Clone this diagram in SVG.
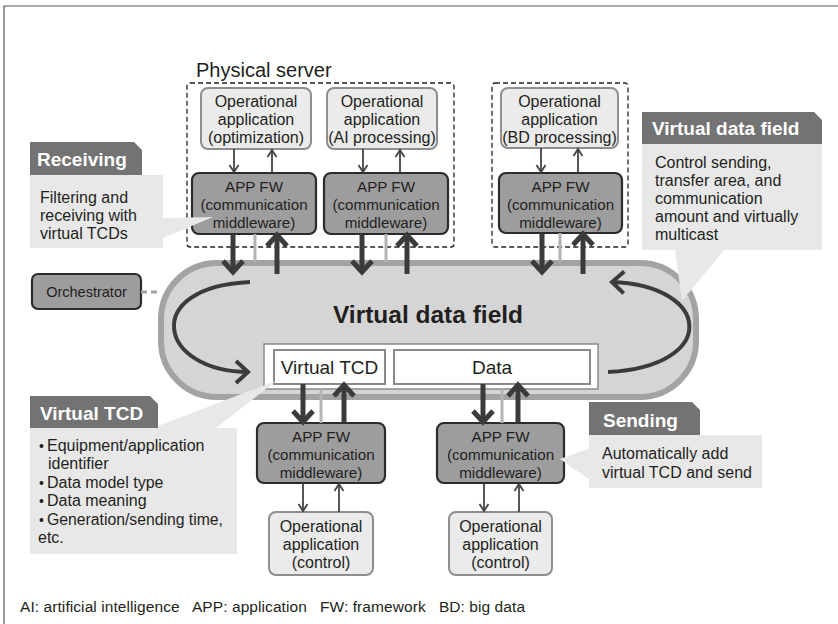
<svg xmlns="http://www.w3.org/2000/svg" width="838" height="624" viewBox="0 0 838 624">
<defs>
<style>
text{font-family:"Liberation Sans",Arial,sans-serif;fill:#231f20}
.op{fill:#ebebeb;stroke:#8e8e8e;stroke-width:2}
.fw{fill:#9d9d9d;stroke:#2b2b2b;stroke-width:2.2}
.t15{font-size:16px;text-anchor:middle}
.t14{font-size:15.2px;text-anchor:middle}
.thin{stroke:#444;stroke-width:1.8;fill:none;marker-end:url(#mthin)}
.thick{stroke:#3d3a3a;stroke-width:5;fill:none;marker-end:url(#mthick)}
.gl{stroke:#b3b3b3;stroke-width:3;fill:none}
.curve{stroke:#3d3a3a;stroke-width:4;fill:none;marker-end:url(#mcurve)}
.dash{fill:none;stroke:#231f20;stroke-width:1.3;stroke-dasharray:5,3}
.hd{fill:#737373}
.bd{fill:#e8e8e8}
.hdt{font-size:19px;font-weight:bold;fill:#fff}
.bt{font-size:16px}
</style>
<marker id="mthin" markerUnits="userSpaceOnUse" markerWidth="12" markerHeight="12" refX="9" refY="6" orient="auto">
<path d="M2,1.5 L9,6 L2,10.5" fill="none" stroke="#444" stroke-width="1.8"/>
</marker>
<marker id="mthick" markerUnits="userSpaceOnUse" markerWidth="22" markerHeight="24" refX="15" refY="12" orient="auto">
<path d="M3,2 L14,12 L3,22" fill="none" stroke="#3d3a3a" stroke-width="5" stroke-linejoin="miter"/>
</marker>
<marker id="mcurve" markerUnits="userSpaceOnUse" markerWidth="24" markerHeight="26" refX="17" refY="13" orient="auto">
<path d="M4,2 L16,13 L4,24" fill="none" stroke="#3d3a3a" stroke-width="4"/>
</marker>
</defs>
<rect width="838" height="624" fill="#fff"/>
<path d="M4,624 L4,6 L838,6" fill="none" stroke="#555" stroke-width="1.2"/>

<g id="server1">
<text x="196" y="77" style="font-size:20px">Physical server</text>
<rect class="dash" x="187" y="83" width="267" height="164" rx="3"/>
</g>
<g id="server2">
<rect class="dash" x="492" y="83" width="136" height="164" rx="3"/>
</g>

<g id="field">
<rect x="161" y="263" width="535" height="134" rx="56" fill="#d5d5d5" stroke="#a3a3a3" stroke-width="6"/>
<text x="428" y="323" style="font-size:24.5px;font-weight:bold;text-anchor:middle">Virtual data field</text>
<rect x="264" y="344" width="334" height="45" fill="#fff" stroke="#8a8a8a" stroke-width="1.5"/>
</g>
<g id="vtcd">
<rect x="274" y="350" width="111" height="34" fill="#fff" stroke="#8a8a8a" stroke-width="2"/>
<text x="329.5" y="374" style="font-size:19px;text-anchor:middle">Virtual TCD</text>
</g>
<g id="data">
<rect x="394" y="350" width="196" height="34" fill="#fff" stroke="#8a8a8a" stroke-width="2"/>
<text x="492" y="374" style="font-size:19px;text-anchor:middle">Data</text>
</g>

<g id="op1"><rect class="op" x="201" y="88" width="110" height="61" rx="7"/>
<text class="t15" x="256" y="107">Operational</text><text class="t15" x="256" y="125">application</text><text class="t15" x="256" y="143">(optimization)</text></g>
<g id="op2"><rect class="op" x="327" y="88" width="110" height="61" rx="7"/>
<text class="t15" x="382" y="107">Operational</text><text class="t15" x="382" y="125">application</text><text class="t15" x="382" y="143">(AI processing)</text></g>
<g id="op3"><rect class="op" x="501" y="88" width="117" height="60" rx="7"/>
<text class="t15" x="559.5" y="107">Operational</text><text class="t15" x="559.5" y="125">application</text><text class="t15" x="559.5" y="143">(BD processing)</text></g>

<g id="fw1"><rect class="fw" x="192" y="173" width="124" height="61" rx="7"/>
<text class="t14" x="254" y="192">APP FW</text><text class="t14" x="254" y="210">(communication</text><text class="t14" x="254" y="228">middleware)</text></g>
<g id="fw2"><rect class="fw" x="324" y="173" width="124" height="61" rx="7"/>
<text class="t14" x="386" y="192">APP FW</text><text class="t14" x="386" y="210">(communication</text><text class="t14" x="386" y="228">middleware)</text></g>
<g id="fw3"><rect class="fw" x="499" y="173" width="123" height="60" rx="7"/>
<text class="t14" x="560.5" y="192">APP FW</text><text class="t14" x="560.5" y="210">(communication</text><text class="t14" x="560.5" y="228">middleware)</text></g>
<g id="fw4"><rect class="fw" x="257" y="423" width="128" height="60" rx="7"/>
<text class="t14" x="321" y="442">APP FW</text><text class="t14" x="321" y="460">(communication</text><text class="t14" x="321" y="478">middleware)</text></g>
<g id="fw5"><rect class="fw" x="437" y="423" width="127" height="60" rx="7"/>
<text class="t14" x="500.5" y="442">APP FW</text><text class="t14" x="500.5" y="460">(communication</text><text class="t14" x="500.5" y="478">middleware)</text></g>

<g id="op4"><rect class="op" x="269" y="512" width="104" height="63" rx="7"/>
<text class="t15" x="321" y="532">Operational</text><text class="t15" x="321" y="550">application</text><text class="t15" x="321" y="568">(control)</text></g>
<g id="op5"><rect class="op" x="449" y="512" width="103" height="63" rx="7"/>
<text class="t15" x="500.5" y="532">Operational</text><text class="t15" x="500.5" y="550">application</text><text class="t15" x="500.5" y="568">(control)</text></g>

<g id="orchestrator"><rect class="fw" x="32" y="274" width="109" height="35" rx="6"/>
<text x="86.5" y="297" style="font-size:14.5px;text-anchor:middle">Orchestrator</text></g>

<g id="connectors">
<line x1="141" y1="292" x2="161" y2="292" stroke="#a3a3a3" stroke-width="3" stroke-dasharray="6,4"/>
<path class="gl" d="M255,234 V262 M386,234 V262 M560,233 V262 M321,389 V423 M502,389 V423"/>
<path class="thin" d="M234,149 V172"/>
<path class="thin" d="M272,173 V150"/>
<path class="thin" d="M363,149 V172"/>
<path class="thin" d="M400,173 V150"/>
<path class="thin" d="M541,148 V172"/>
<path class="thin" d="M578,173 V149"/>
<path class="thin" d="M303,483 V511"/>
<path class="thin" d="M339,512 V484"/>
<path class="thin" d="M484,483 V511"/>
<path class="thin" d="M519,512 V484"/>
<path class="thick" d="M233,234 V273"/>
<path class="thick" d="M277,274 V234"/>
<path class="thick" d="M362,234 V273"/>
<path class="thick" d="M407,274 V234"/>
<path class="thick" d="M542,233 V273"/>
<path class="thick" d="M583,274 V233"/>
<path class="thick" d="M303,384 V423"/>
<path class="thick" d="M344,423 V384"/>
<path class="thick" d="M483,384 V423"/>
<path class="thick" d="M518,423 V384"/>
<path class="curve" d="M250,282 C140,287 158,372 249,372"/>
<path class="curve" d="M608,372 C720,366 712,285 611,282"/>
</g>

<g id="callout-receiving">
<polygon class="bd" points="163,218 213,217 163,238"/>
<path class="hd" d="M30,142 H134 L142,150 V175 H30 Z"/>
<rect class="bd" x="30" y="175" width="133" height="73"/>
<text class="hdt" x="37" y="166">Receiving</text>
<text class="bt" x="40" y="203">Filtering and</text>
<text class="bt" x="40" y="221">receiving with</text>
<text class="bt" x="40" y="239">virtual TCDs</text>
</g>

<g id="callout-field">
<polygon class="bd" points="675,249 725,249 682,301"/>
<path class="hd" d="M642,112 H814 L822,120 V144 H642 Z"/>
<rect class="bd" x="642" y="144" width="180" height="106"/>
<text class="hdt" x="652" y="135">Virtual data field</text>
<text class="bt" x="655" y="168">Control sending,</text>
<text class="bt" x="655" y="186">transfer area, and</text>
<text class="bt" x="655" y="204">communication</text>
<text class="bt" x="655" y="222">amount and virtually</text>
<text class="bt" x="655" y="240">multicast</text>
</g>

<g id="callout-vtcd">
<polygon class="bd" points="150,429 276,381 215,429"/>
<path class="hd" d="M30,396 H150 L158,404 V428 H30 Z"/>
<rect class="bd" x="30" y="428" width="207" height="126"/>
<text class="hdt" x="40" y="420">Virtual TCD</text>
<g fill="#231f20"><circle cx="41.5" cy="446" r="2"/><circle cx="41.5" cy="483" r="2"/><circle cx="41.5" cy="501" r="2"/><circle cx="41.5" cy="520" r="2"/></g>
<text class="bt" x="47" y="451">Equipment/application</text>
<text class="bt" x="48" y="469">identifier</text>
<text class="bt" x="47" y="488">Data model type</text>
<text class="bt" x="47" y="506">Data meaning</text>
<text class="bt" x="47" y="525" textLength="176" lengthAdjust="spacingAndGlyphs">Generation/sending time,</text>
<text class="bt" x="38" y="543">etc.</text>
</g>

<g id="callout-sending">
<polygon class="bd" points="590,448 560,459 590,480"/>
<path class="hd" d="M589,402 H692 L700,410 V435 H589 Z"/>
<rect class="bd" x="589" y="435" width="173" height="53"/>
<text class="hdt" x="603" y="427">Sending</text>
<text class="bt" x="602" y="459">Automatically add</text>
<text class="bt" x="602" y="478">virtual TCD and send</text>
</g>

<text x="20" y="612" xml:space="preserve" style="font-size:15.5px" textLength="505" lengthAdjust="spacing">AI: artificial intelligence   APP: application   FW: framework   BD: big data</text>
</svg>
